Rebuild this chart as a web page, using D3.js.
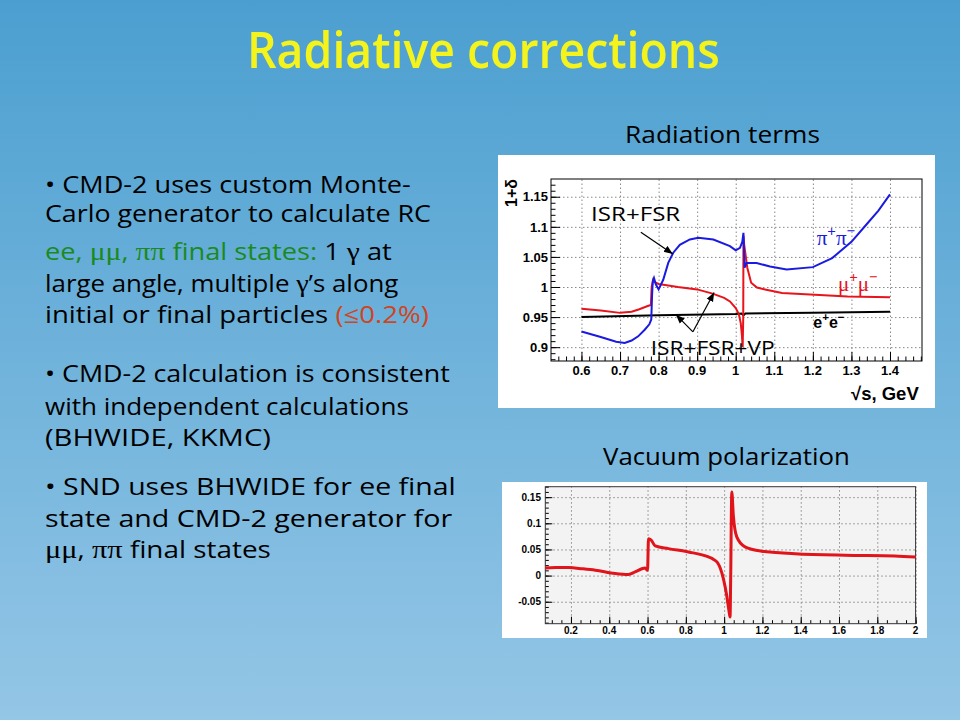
<!DOCTYPE html>
<html>
<head>
<meta charset="utf-8">
<script src="https://cdn.jsdelivr.net/npm/d3@7"></script>
<style>
body { margin: 0; }
svg { display: block; }
</style>
</head>
<body>
<svg id="slide" width="960" height="720"></svg>
<script>
// Radiation terms, 1+delta vs sqrt(s)
var piPi = [[0.6,0.926],[0.65,0.917],[0.69,0.909],[0.712,0.907],[0.73,0.911],[0.747,0.918],[0.764,0.929],
	[0.776,0.938],[0.781,0.946],[0.783,0.985],[0.785,1.010],[0.788,1.015],[0.793,1.004],[0.80,0.996],
	[0.812,1.012],[0.825,1.040],[0.838,1.057],[0.855,1.070],[0.881,1.079],[0.903,1.082],[0.942,1.079],
	[0.985,1.068],[1.0,1.061],[1.011,1.065],[1.017,1.075],[1.020,1.090],[1.023,1.032],[1.028,1.040],
	[1.054,1.040],[1.089,1.034],[1.132,1.029],[1.2,1.033],[1.25,1.048],[1.3,1.075],[1.335,1.101],
	[1.37,1.127],[1.4,1.154]]
var muMu = [[0.6,0.964],[0.65,0.961],[0.7,0.957],[0.73,0.959],[0.75,0.963],[0.77,0.968],[0.78,0.970],
	[0.782,1.000],[0.786,1.012],[0.79,1.008],[0.80,1.005],[0.85,1.000],[0.90,0.996],[0.94,0.989],
	[0.97,0.982],[0.985,0.976],[1.0,0.965],[1.008,0.955],[1.013,0.940],[1.016,0.920],[1.018,0.900],
	[1.0195,0.95],[1.020,1.085],[1.022,1.070],[1.03,1.032],[1.04,1.007],[1.055,0.999],[1.076,0.996],
	[1.12,0.990],[1.205,0.987],[1.29,0.984],[1.4,0.983]]
var eE = [[0.6,0.950],[0.8,0.953],[1.0,0.955],[1.015,0.956],[1.02,0.953],[1.025,0.956],[1.2,0.957],[1.4,0.959]]
var radXTicks = [0.6,0.7,0.8,0.9,1,1.1,1.2,1.3,1.4]
var radYTicks = [0.9,0.95,1,1.05,1.1,1.15]

// Vacuum polarization vs sqrt(s)
var vacPol = [[0.066,0.0147],[0.12,0.0155],[0.188,0.0153],[0.26,0.013],[0.327,0.0103],[0.431,0.0038],
	[0.50,0.002],[0.535,0.007],[0.570,0.013],[0.587,0.0147],[0.600,0.010],[0.605,0.0706],[0.619,0.068],
	[0.640,0.0567],[0.709,0.0516],[0.814,0.0452],[0.918,0.0357],[0.945,0.031],[0.965,0.025],[0.980,0.014],
	[0.996,-0.0057],[1.013,-0.037],[1.026,-0.069],[1.031,-0.079],[1.034,-0.012],[1.04,0.16],[1.048,0.115],
	[1.066,0.074],[1.109,0.055],[1.196,0.0466],[1.37,0.042],[1.631,0.039],[1.892,0.0376],[2.0,0.0357]]
var vpXTicks = [0.2,0.4,0.6,0.8,1,1.2,1.4,1.6,1.8,2]
var vpYTicks = [-0.05,0,0.05,0.1,0.15]

// slide text, one entry per line: [text, style]
var bodyLines = [
	{y: 193, w: 366, parts: [['• CMD-2 uses custom Monte-']]},
	{y: 222, w: 386, parts: [['Carlo generator to calculate RC']]},
	{y: 260, w: 347, parts: [['ee, ','g'],['μμ','gk'],[', ','g'],['ππ','gk'],[' final states:','g'],[' 1 '],['γ','k'],[' at']]},
	{y: 292, w: 354, parts: [['large angle, multiple '],['γ','k'],['’s along']]},
	{y: 323, w: 384, parts: [['initial or final particles '],['(≤0.2%)','r']]},
	{y: 382, w: 405, parts: [['• CMD-2 calculation is consistent']]},
	{y: 415, w: 364, parts: [['with independent calculations']]},
	{y: 446, w: 226, parts: [['(BHWIDE, KKMC)']]},
	{y: 495, w: 411, parts: [['• SND uses BHWIDE for ee final']]},
	{y: 527, w: 408, parts: [['state and CMD-2 generator for']]},
	{y: 558, w: 226, parts: [['μμ','k'],[', '],['ππ','k'],[' final states']]}
]

var svg = d3.select('#slide'),
	handFont = '"Comic Sans MS", "Open Sans", sans-serif',
	greekFont = '"Liberation Serif", "DejaVu Serif", serif',
	rootFont = '"Liberation Sans", Arial, sans-serif'

var defs = svg.append('defs')
var grad = defs.append('linearGradient').attr('id', 'bg').attr('x1', 0).attr('y1', 0).attr('x2', 0).attr('y2', 1)
grad.append('stop').attr('offset', 0).attr('stop-color', '#4b9fd0')
grad.append('stop').attr('offset', 1).attr('stop-color', '#94c6e6')
defs.append('marker').attr('id', 'head')
	.attr('viewBox', '0 0 10 10').attr('refX', 10).attr('refY', 5)
	.attr('markerWidth', 9).attr('markerHeight', 9).attr('markerUnits', 'userSpaceOnUse')
	.attr('orient', 'auto')
	.append('path').attr('d', 'M0,1 L10,5 L0,9 Z').attr('fill', '#000')

svg.append('rect').attr('width', 960).attr('height', 720).attr('fill', 'url(#bg)')

// squeeze a text element to a given width
function fit(text, x, y, w) {
	var bw = text.node().getBBox().width
	text.attr('transform', 'translate(' + x + ',' + y + ') scale(' + (w / bw) + ',1)')
	return text
}

fit(svg.append('text').attr('font-family', handFont).attr('font-size', 50).attr('font-weight', 600)
	.attr('fill', '#f4f41c').text('Radiative corrections'), 247, 68, 473)
fit(svg.append('text').attr('font-family', handFont).attr('font-size', 24)
	.attr('fill', '#000').text('Radiation terms'), 625, 143, 195)
fit(svg.append('text').attr('font-family', handFont).attr('font-size', 24)
	.attr('fill', '#000').text('Vacuum polarization'), 603, 465, 247)

var styles = {
	g: {fill: '#1b8a1e'},
	gk: {fill: '#1b8a1e', font: greekFont},
	k: {fill: '#000', font: greekFont},
	r: {fill: '#cf451f'}
}
bodyLines.forEach(function(line) {
	var t = svg.append('text').attr('font-family', handFont).attr('font-size', 23).attr('fill', '#000')
		.attr('xml:space', 'preserve')
	line.parts.forEach(function(p) {
		var st = styles[p[1]] || {},
			ts = t.append('tspan').text(p[0])
		if(st.fill) ts.attr('fill', st.fill)
		if(st.font) ts.attr('font-family', st.font).attr('font-size', 25)
	})
	fit(t, 45, line.y, line.w)
})

function draw_plot(box, xDom, yDom, xTicks, yTicks, xMinor, yMinor) {
	var x = d3.scaleLinear().domain(xDom).range([box.x0, box.x1]),
		y = d3.scaleLinear().domain(yDom).range([box.y1, box.y0]),
		w = box.x1 - box.x0,
		h = box.y1 - box.y0,
		g = svg.append('g')

	g.append('rect').attr('x', box.px).attr('y', box.py).attr('width', box.pw).attr('height', box.ph)
		.attr('fill', '#fff')
	g.append('rect').attr('x', box.x0).attr('y', box.y0).attr('width', w).attr('height', h)
		.attr('fill', box.fill)

	function clean(s) {
		s.select('.domain').remove()
		s.selectAll('text').remove()
		s.selectAll('line').attr('stroke', '#000').attr('stroke-width', 1)
	}
	function grid(s) {
		s.select('.domain').remove()
		s.selectAll('text').remove()
		s.selectAll('line').attr('stroke', '#888').attr('stroke-width', 1).attr('stroke-dasharray', '1.5,2.5')
	}
	// grid
	g.append('g').attr('transform', 'translate(0,' + box.y1 + ')')
		.call(d3.axisBottom(x).tickValues(xTicks).tickSize(-h)).call(grid)
	g.append('g').attr('transform', 'translate(' + box.x0 + ',0)')
		.call(d3.axisLeft(y).tickValues(yTicks).tickSize(-w)).call(grid)
	// ticks pointing inwards
	g.append('g').attr('transform', 'translate(0,' + box.y1 + ')')
		.call(d3.axisBottom(x).tickValues(xMinor).tickSize(-box.minor)).call(clean)
	g.append('g').attr('transform', 'translate(0,' + box.y1 + ')')
		.call(d3.axisBottom(x).tickValues(xTicks).tickSize(-box.major)).call(clean)
	g.append('g').attr('transform', 'translate(' + box.x0 + ',0)')
		.call(d3.axisLeft(y).tickValues(yMinor).tickSize(-box.minor)).call(clean)
	g.append('g').attr('transform', 'translate(' + box.x0 + ',0)')
		.call(d3.axisLeft(y).tickValues(yTicks).tickSize(-box.major)).call(clean)

	g.append('rect').attr('x', box.x0).attr('y', box.y0).attr('width', w).attr('height', h)
		.attr('fill', 'none').attr('stroke', box.frame).attr('stroke-width', 1)

	g.selectAll('.xl').data(xTicks).enter().append('text')
		.attr('x', function(d) { return x(d) }).attr('y', box.xlab)
		.attr('text-anchor', 'middle').attr('font-family', rootFont).attr('font-weight', 'bold')
		.attr('font-size', box.fs).text(function(d) { return String(+d.toFixed(2)) })
	g.selectAll('.yl').data(yTicks).enter().append('text')
		.attr('x', box.ylab).attr('y', function(d) { return y(d) + box.fs * 0.36 })
		.attr('text-anchor', 'end').attr('font-family', rootFont).attr('font-weight', 'bold')
		.attr('font-size', box.fs).text(function(d) { return String(+d.toFixed(2)) })

	return {x: x, y: y, g: g}
}

function minor(dom, step) {
	return d3.range(Math.ceil(dom[0] / step), Math.floor(dom[1] / step) + 1).map(function(i) { return i * step })
}

// ---- top chart
var radX = [0.521, 1.483], radY = [0.877, 1.1795]
var rad = draw_plot({px: 498, py: 155, pw: 437, ph: 253, x0: 551, x1: 922, y0: 179, y1: 361,
		fill: '#fff', frame: '#000', major: 9, minor: 4.5, fs: 13, xlab: 375, ylab: 548},
	radX, radY, radXTicks, radYTicks, minor(radX, 0.02), minor(radY, 0.01))

var line = d3.line().x(function(d) { return rad.x(d[0]) }).y(function(d) { return rad.y(d[1]) })
rad.g.append('path').datum(eE).attr('d', line).attr('fill', 'none').attr('stroke', '#000').attr('stroke-width', 2)
rad.g.append('path').datum(muMu).attr('d', line).attr('fill', 'none').attr('stroke', '#e8141c').attr('stroke-width', 2)
rad.g.append('path').datum(piPi).attr('d', line).attr('fill', 'none').attr('stroke', '#1a1ae0').attr('stroke-width', 2)

// axis titles
svg.append('text').attr('transform', 'translate(516.5,207) rotate(-90)')
	.attr('font-family', rootFont).attr('font-weight', 'bold').attr('font-size', 16)
	.text('1+δ')
svg.append('text').attr('x', 851).attr('y', 400)
	.attr('font-family', rootFont).attr('font-weight', 'bold').attr('font-size', 18.5)
	.text('√s, GeV')

function sup_label(x, y, parts, color, font, size, weight) {
	var t = svg.append('text').attr('x', rad.x(x)).attr('y', rad.y(y)).attr('fill', color)
		.attr('font-family', font).attr('font-size', size).attr('font-weight', weight)
	var up = false
	parts.forEach(function(p) {
		var ts = t.append('tspan').text(p[0])
		if(p[1]) ts.attr('font-size', size * 0.72).attr('font-weight', 'bold')
		if(p[1] && !up) { ts.attr('dy', -size * 0.42); up = true }
		else if(!p[1] && up) { ts.attr('dy', size * 0.42); up = false }
	})
	return t
}
sup_label(1.210, 1.0705, [['π'],['+',1],['π'],['−',1]], '#1a1ae0', greekFont, 21, 'normal')
sup_label(1.265, 0.994, [['μ'],['+',1],['μ'],['−',1]], '#e8141c', greekFont, 21, 'normal')
sup_label(1.201, 0.932, [['e'],['+',1],['e'],['−',1]], '#000', rootFont, 16, 'bold')

fit(svg.append('text').attr('font-family', handFont).attr('font-size', 20).text('ISR+FSR'),
	rad.x(0.625), rad.y(1.109), 90)
fit(svg.append('text').attr('font-family', handFont).attr('font-size', 20).text('ISR+FSR+VP'),
	rad.x(0.7795), rad.y(0.887), 124)

function arrow(a, b) {
	svg.append('line').attr('x1', rad.x(a[0])).attr('y1', rad.y(a[1]))
		.attr('x2', rad.x(b[0])).attr('y2', rad.y(b[1]))
		.attr('stroke', '#000').attr('stroke-width', 1.2).attr('marker-end', 'url(#head)')
}
arrow([0.754, 1.091], [0.837, 1.055])
arrow([0.889, 0.9255], [0.845, 0.954])
arrow([0.889, 0.9255], [0.944, 0.991])

// ---- bottom chart
var vpX = [0.066, 2.0], vpY = [-0.092, 0.170]
var bot = draw_plot({px: 502, py: 482, pw: 425, ph: 156, x0: 545.3, x1: 915.6, y0: 486.7, y1: 623.7,
		fill: '#f3f3f3', frame: '#333', major: 7, minor: 3.5, fs: 10, xlab: 634, ylab: 541},
	vpX, vpY, vpXTicks, vpYTicks, minor(vpX, 0.05), minor(vpY, 0.01))

var vpLine = d3.line().x(function(d) { return bot.x(d[0]) }).y(function(d) { return bot.y(d[1]) })
	.curve(d3.curveMonotoneX)
bot.g.append('path').datum(vacPol).attr('d', vpLine).attr('fill', 'none')
	.attr('stroke', '#e0141a').attr('stroke-width', 3).attr('stroke-linejoin', 'round')
</script>
</body>
</html>
